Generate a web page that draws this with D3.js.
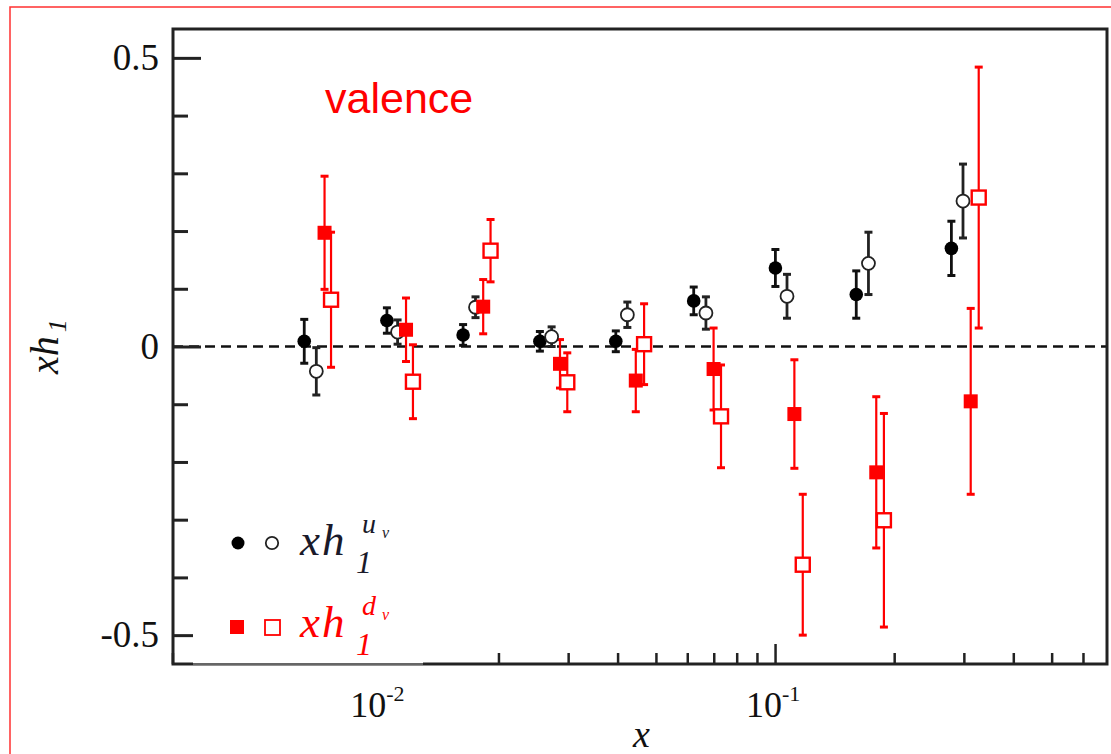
<!DOCTYPE html>
<html>
<head>
<meta charset="utf-8">
<script src="https://cdn.jsdelivr.net/npm/d3@7"></script>
<style>
  body { margin: 0; background: #fff; }
  .serif { font-family: "Liberation Serif", "DejaVu Serif", serif; }
</style>
</head>
<body>
<div id="chart"></div>
<script>
// data: x, value, error for each series
var uvFilledX = [0.00646, 0.01045, 0.01628, 0.02545, 0.03959, 0.06229, 0.1002, 0.1604, 0.2790];
var uvFilledY = [0.009, 0.045, 0.020, 0.009, 0.009, 0.079, 0.136, 0.090, 0.170];
var uvFilledE = [0.038, 0.022, 0.018, 0.017, 0.018, 0.024, 0.032, 0.041, 0.047];

var uvOpenX = [0.00693, 0.01112, 0.01750, 0.02725, 0.04234, 0.06688, 0.1072, 0.1722, 0.2985];
var uvOpenY = [-0.043, 0.025, 0.068, 0.017, 0.055, 0.058, 0.087, 0.144, 0.252];
var uvOpenE = [0.041, 0.021, 0.018, 0.017, 0.022, 0.028, 0.038, 0.054, 0.064];

var dvFilledX = [0.00727, 0.01168, 0.01830, 0.02861, 0.04447, 0.06993, 0.1119, 0.1802, 0.3122];
var dvFilledY = [0.197, 0.029, 0.069, -0.030, -0.059, -0.039, -0.117, -0.218, -0.095];
var dvFilledE = [0.098, 0.055, 0.047, 0.042, 0.054, 0.071, 0.094, 0.131, 0.161];

var dvOpenX = [0.00755, 0.01216, 0.01910, 0.02985, 0.04667, 0.07302, 0.1175, 0.1884, 0.3271];
var dvOpenY = [0.081, -0.061, 0.166, -0.062, 0.004, -0.121, -0.378, -0.301, 0.258];
var dvOpenE = [0.117, 0.064, 0.054, 0.051, 0.070, 0.089, 0.122, 0.185, 0.226];

var yMajor = [-0.5, 0, 0.5];
var yMajorLabels = ["-0.5", "0", "0.5"];
var yMinor = [-0.4, -0.3, -0.2, -0.1, 0.1, 0.2, 0.3, 0.4];
var xMajor = [0.01, 0.1];
var xMajorExp = ["-2", "-1"];
var xMinor = [0.003, 0.004, 0.005, 0.006, 0.007, 0.008, 0.009,
              0.02, 0.03, 0.04, 0.05, 0.06, 0.07, 0.08, 0.09,
              0.2, 0.3, 0.4, 0.5, 0.6];

var W = 1111, H = 754;
var plotL = 173, plotR = 1107, plotT = 29, plotB = 664;

var svg = d3.select("#chart").append("svg")
    .attr("width", W)
    .attr("height", H);

// red frame round the figure
svg.append("rect")
    .attr("x", 10).attr("y", 7)
    .attr("width", 1120).attr("height", 800)
    .attr("fill", "none")
    .attr("stroke", "#ff3030")
    .attr("stroke-width", 1.5);

var x = d3.scaleLog().domain([0.00301, 0.69]).range([plotL, plotR]);
var y = d3.scaleLinear().domain([-0.55, 0.55]).range([plotB, plotT]);

// zero line
svg.append("line")
    .attr("x1", plotL).attr("x2", plotR)
    .attr("y1", y(0)).attr("y2", y(0))
    .attr("stroke", "#111")
    .attr("stroke-width", 2.5)
    .attr("stroke-dasharray", "10,6");

// axes, ticks pointing in
var gy = svg.append("g").attr("transform", "translate(" + plotL + ",0)");
gy.call(d3.axisLeft(y).tickValues(yMajor).tickSize(-28).tickPadding(14)
    .tickFormat(function(d, i) { return yMajorLabels[i]; }));
gy.append("g").call(d3.axisLeft(y).tickValues(yMinor).tickSize(-15).tickFormat(""));
gy.selectAll(".domain").remove();
gy.selectAll("line").attr("stroke", "#222").attr("stroke-width", 3);
gy.selectAll("text")
    .attr("class", "serif")
    .attr("font-size", 37)
    .attr("fill", "#111");

var gx = svg.append("g").attr("transform", "translate(0," + plotB + ")");
gx.call(d3.axisBottom(x).tickValues(xMajor).tickSize(-20).tickFormat(""));
gx.append("g").call(d3.axisBottom(x).tickValues(xMinor).tickSize(-11).tickFormat(""));
gx.selectAll(".domain").remove();
gx.selectAll("line").attr("stroke", "#222").attr("stroke-width", 2.5);

// x tick labels as 10^n
xMajor.forEach(function(v, i) {
  var t = svg.append("text")
      .attr("class", "serif")
      .attr("x", x(v) - 2)
      .attr("y", 717)
      .attr("text-anchor", "middle")
      .attr("fill", "#111")
      .attr("font-size", 36);
  t.append("tspan").text("10");
  t.append("tspan").attr("font-size", 22).attr("dy", -16).text(xMajorExp[i]);
});

// plot frame
svg.append("rect")
    .attr("x", plotL).attr("y", plotT)
    .attr("width", plotR - plotL).attr("height", plotB - plotT)
    .attr("fill", "none")
    .attr("stroke", "#222")
    .attr("stroke-width", 3);

// error bars
function bars(xs, ys, es, color, sw) {
  var g = svg.append("g").attr("stroke", color).attr("stroke-width", sw);
  xs.forEach(function(xv, i) {
    var cx = x(xv), y1 = y(ys[i] + es[i]), y2 = y(ys[i] - es[i]);
    g.append("line").attr("x1", cx).attr("x2", cx).attr("y1", y1).attr("y2", y2);
    g.append("line").attr("x1", cx - 4).attr("x2", cx + 4).attr("y1", y1).attr("y2", y1).attr("stroke-width", 3);
    g.append("line").attr("x1", cx - 4).attr("x2", cx + 4).attr("y1", y2).attr("y2", y2).attr("stroke-width", 3);
  });
}
bars(uvFilledX, uvFilledY, uvFilledE, "#111", 2.8);
bars(uvOpenX, uvOpenY, uvOpenE, "#222", 2.8);
bars(dvFilledX, dvFilledY, dvFilledE, "#ff0000", 2.2);
bars(dvOpenX, dvOpenY, dvOpenE, "#ff0000", 2.2);

// markers
svg.append("g").selectAll("circle")
  .data(uvFilledX).enter().append("circle")
    .attr("cx", function(d) { return x(d); })
    .attr("cy", function(d, i) { return y(uvFilledY[i]); })
    .attr("r", 6.8)
    .attr("fill", "#000");

svg.append("g").selectAll("circle")
  .data(uvOpenX).enter().append("circle")
    .attr("cx", function(d) { return x(d); })
    .attr("cy", function(d, i) { return y(uvOpenY[i]); })
    .attr("r", 6.5)
    .attr("fill", "#fff")
    .attr("stroke", "#222")
    .attr("stroke-width", 1.8);

svg.append("g").selectAll("rect")
  .data(dvFilledX).enter().append("rect")
    .attr("x", function(d) { return x(d) - 7; })
    .attr("y", function(d, i) { return y(dvFilledY[i]) - 7; })
    .attr("width", 14).attr("height", 14)
    .attr("fill", "#ff0000");

svg.append("g").selectAll("rect")
  .data(dvOpenX).enter().append("rect")
    .attr("x", function(d) { return x(d) - 7; })
    .attr("y", function(d, i) { return y(dvOpenY[i]) - 7; })
    .attr("width", 14).attr("height", 14)
    .attr("fill", "#fff")
    .attr("stroke", "#ff0000")
    .attr("stroke-width", 2.4);

// legend box covers part of the bottom axis
svg.append("rect")
    .attr("x", 193).attr("y", 505)
    .attr("width", 230).attr("height", 158)
    .attr("fill", "#fff");
svg.append("line")
    .attr("x1", 193).attr("x2", 423)
    .attr("y1", 664).attr("y2", 664)
    .attr("stroke", "#aaa").attr("stroke-width", 1.2);

svg.append("circle").attr("cx", 238).attr("cy", 543).attr("r", 6.5).attr("fill", "#000");
svg.append("circle").attr("cx", 272).attr("cy", 543).attr("r", 6.2)
    .attr("fill", "#fff").attr("stroke", "#222").attr("stroke-width", 1.8);
svg.append("rect").attr("x", 230).attr("y", 620).attr("width", 14).attr("height", 14).attr("fill", "#ff0000");
svg.append("rect").attr("x", 265).attr("y", 620).attr("width", 15).attr("height", 15)
    .attr("fill", "#fff").attr("stroke", "#ff0000").attr("stroke-width", 1.8);

function legendLabel(yBase, sup, color) {
  var g = svg.append("g").attr("class", "serif").attr("font-style", "italic").attr("fill", color);
  g.append("text").attr("x", 300).attr("y", yBase).attr("font-size", 45)
      .attr("letter-spacing", 2).text("xh");
  g.append("text").attr("x", 356).attr("y", yBase + 18).attr("font-size", 32).text("1");
  g.append("text").attr("x", 362).attr("y", yBase - 22).attr("font-size", 28).text(sup);
  g.append("text").attr("x", 382).attr("y", yBase - 17).attr("font-size", 16).text("v");
}
legendLabel(555, "u", "#1a1a2a");
legendLabel(637, "d", "#ff0000");

// valence label
svg.append("text")
    .attr("x", 325).attr("y", 113)
    .attr("font-family", "Liberation Sans, Arial, sans-serif")
    .attr("font-size", 43)
    .attr("fill", "#ff0000")
    .text("valence");

// axis titles
svg.append("text")
    .attr("class", "serif")
    .attr("x", 633).attr("y", 747)
    .attr("font-style", "italic")
    .attr("font-size", 38)
    .attr("fill", "#111")
    .text("x");

var yt = svg.append("text")
    .attr("class", "serif")
    .attr("transform", "translate(58,374) rotate(-90)")
    .attr("font-style", "italic")
    .attr("fill", "#111");
yt.append("tspan").attr("font-size", 40).text("xh");
yt.append("tspan").attr("font-size", 26).attr("dy", 8).attr("dx", 4).text("1");
</script>
</body>
</html>
